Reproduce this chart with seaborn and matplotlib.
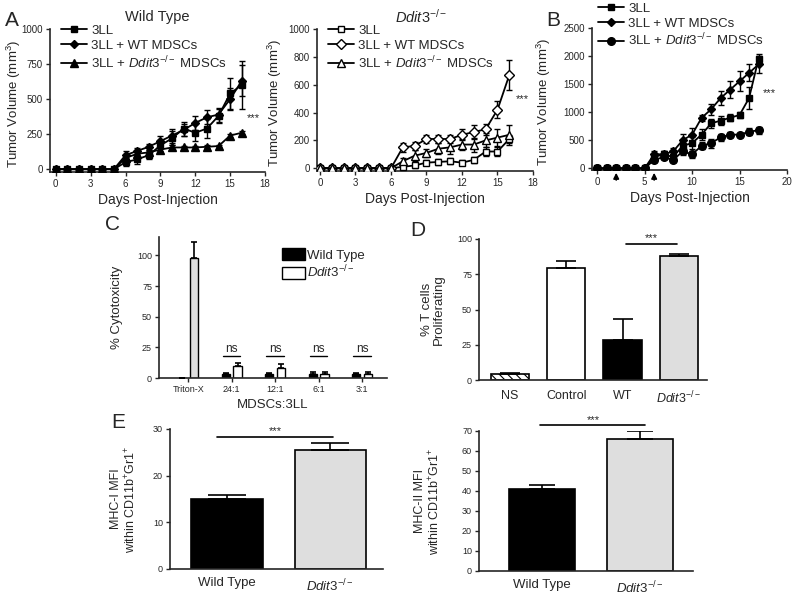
import numpy as np
import pandas as pd
import seaborn as sns
import matplotlib.pyplot as plt
from matplotlib.patches import Patch

sns.set_style("ticks")
plt.rcParams['font.family'] = ['Liberation Sans', 'DejaVu Sans']
plt.rcParams['mathtext.fontset'] = 'custom'
plt.rcParams['mathtext.rm'] = 'Liberation Sans'
plt.rcParams['mathtext.it'] = 'Liberation Sans:italic'
plt.rcParams['mathtext.bf'] = 'Liberation Sans:bold'
plt.rcParams['hatch.linewidth'] = 0.8

DDIT = r'$\it{Ddit3}^{-/-}$'

# ---- data: panel A, wild type hosts (days 0-16)
days_a = list(range(17))
wt_3ll = [0, 0, 0, 0, 0, 0, 50, 70, 100, 170, 220, 290, 260, 290, 380, 540, 600]
wt_3ll_err = [0, 0, 0, 0, 0, 0, 30, 30, 30, 40, 50, 50, 60, 70, 50, 110, 170]
wt_wtm = [0, 0, 0, 0, 0, 0, 100, 130, 160, 200, 240, 280, 330, 370, 390, 500, 630]
wt_wtm_err = [0, 0, 0, 0, 0, 0, 30, 20, 20, 40, 50, 40, 50, 50, 50, 80, 110]
wt_ddm = [0, 0, 0, 0, 0, 0, 80, 110, 120, 140, 155, 155, 155, 160, 165, 240, 260]
wt_ddm_err = [0, 0, 0, 0, 0, 0, 20, 15, 15, 20, 15, 10, 10, 10, 10, 10, 10]

# ---- data: panel A, Ddit3-/- hosts
dd_3ll = [0, 0, 0, 0, 0, 0, 0, 10, 20, 40, 45, 50, 40, 60, 120, 120, 210]
dd_3ll_err = [0, 0, 0, 0, 0, 0, 0, 15, 15, 20, 20, 20, 20, 20, 30, 30, 30]
dd_wtm = [0, 0, 0, 0, 0, 0, 0, 150, 160, 210, 210, 210, 240, 260, 280, 420, 670]
dd_wtm_err = [0, 0, 0, 0, 0, 0, 0, 30, 30, 30, 30, 30, 40, 50, 40, 60, 110]
dd_ddm = [0, 0, 0, 0, 0, 0, 0, 50, 90, 110, 140, 150, 170, 170, 200, 220, 240]
dd_ddm_err = [0, 0, 0, 0, 0, 0, 0, 20, 40, 30, 40, 50, 40, 50, 50, 60, 70]

# ---- data: panel B (days 0-17)
days_b = list(range(18))
b_3ll = [0, 0, 0, 0, 0, 0, 200, 250, 200, 400, 450, 600, 800, 850, 900, 950, 1250, 1950]
b_3ll_err = [0, 0, 0, 0, 0, 0, 80, 60, 60, 80, 100, 100, 80, 80, 60, 60, 200, 80]
b_wtm = [0, 0, 0, 0, 0, 0, 250, 250, 300, 500, 600, 900, 1050, 1250, 1400, 1550, 1700, 1850]
b_wtm_err = [0, 0, 0, 0, 0, 0, 60, 60, 60, 120, 120, 50, 100, 120, 150, 180, 150, 150]
b_ddm = [0, 0, 0, 0, 0, 0, 150, 200, 150, 300, 250, 400, 450, 550, 600, 600, 650, 680]
b_ddm_err = [0, 0, 0, 0, 0, 0, 40, 40, 40, 60, 60, 60, 80, 60, 40, 30, 60, 60]

# ---- data: panel C
c_ratios = ['Triton-X', '24:1', '12:1', '6:1', '3:1']
c_wt = [0, 3, 3, 3.5, 3]
c_wt_err = [0, 1, 0.8, 1, 0.8]
c_dd = [98, 10, 8, 3, 3]
c_dd_err = [13, 2.5, 3.5, 2, 2]

# ---- data: panel D
d_groups = ['NS', 'Control', 'WT', DDIT]
d_vals = [4.3, 79.2, 28.4, 87.6]
d_err = [0.8, 5.0, 14.6, 2.0]

# ---- data: panel E
e_groups = ['Wild Type', DDIT]
e_mhc1 = [15.0, 25.6]
e_mhc1_err = [0.8, 1.3]
e_mhc2 = [40.8, 66.0]
e_mhc2_err = [2.2, 4.0]

fig = plt.figure(figsize=(8, 5.95), dpi=100)


def px_axes(l, r, b, t):
    W, H = 800, 595
    return fig.add_axes([l / W, 1 - b / H, (r - l) / W, (b - t) / H])


def style(ax, lab=7):
    sns.despine(ax=ax)
    for s in ['left', 'bottom']:
        ax.spines[s].set_linewidth(1.2)
    ax.tick_params(direction='out', length=3, width=1, labelsize=lab, pad=2)


def growth(ax, days, series):
    for vals, errs, marker, mfc, ms, label in series:
        d = np.array(days)
        v = np.array(vals, float)
        e = np.array(errs, float)
        m = e > 0
        ax.errorbar(d[m], v[m], yerr=e[m], fmt='none', ecolor='k',
                    elinewidth=1, capsize=2.5, capthick=1, zorder=2)
        sns.lineplot(x=days, y=vals, ax=ax, color='k', marker=marker,
                     markersize=ms, markerfacecolor=mfc, markeredgecolor='k',
                     markeredgewidth=1, linewidth=1.3, label=label, zorder=3)


def bar_err(ax, xs, vals, errs, cap):
    ax.errorbar(xs, vals, yerr=[np.zeros(len(vals)), errs], fmt='none',
                ecolor='k', elinewidth=1.2, capsize=cap, capthick=1.2, zorder=4)


leg_kw = dict(frameon=False, fontsize=9.5, handlelength=2.0, labelspacing=0.2,
              handletextpad=0.3, borderaxespad=0, borderpad=0, loc='upper left')

# ---------- A: wild type
ax1 = px_axes(50, 265, 172, 29)
growth(ax1, days_a, [
    (wt_3ll, wt_3ll_err, 's', 'k', 5, '3LL'),
    (wt_wtm, wt_wtm_err, 'D', 'k', 4.5, '3LL + WT MDSCs'),
    (wt_ddm, wt_ddm_err, '^', 'k', 5.5, '3LL + ' + DDIT + ' MDSCs'),
])
ax1.set_xlim(-0.5, 18)
ax1.set_ylim(-20, 1000)
ax1.set_xticks(range(0, 19, 3))
ax1.set_yticks([0, 250, 500, 750, 1000])
style(ax1)
ax1.legend(bbox_to_anchor=(0.05, 1.03), **leg_kw)
ax1.set_xlabel('Days Post-Injection', fontsize=10, labelpad=3)
ax1.set_ylabel('Tumor Volume (mm$^3$)', fontsize=9.5)
ax1.yaxis.set_label_coords(-0.125, 0.48)
ax1.text(0.5, 1.085, 'Wild Type', transform=ax1.transAxes, ha='center', va='center', fontsize=10.5)
ax1.text(17.0, 364, '***', ha='center', va='center', fontsize=8)

# ---------- A: Ddit3-/-
ax2 = px_axes(317, 533, 171, 29)
growth(ax2, days_a, [
    (dd_3ll, dd_3ll_err, 's', 'white', 5, '3LL'),
    (dd_wtm, dd_wtm_err, 'D', 'white', 5, '3LL + WT MDSCs'),
    (dd_ddm, dd_ddm_err, '^', 'white', 5.5, '3LL + ' + DDIT + ' MDSCs'),
])
ax2.set_xlim(-0.25, 18)
ax2.set_ylim(-20, 1000)
ax2.set_xticks(range(0, 19, 3))
ax2.set_yticks(range(0, 1001, 200))
style(ax2)
ax2.legend(bbox_to_anchor=(0.05, 1.03), **leg_kw)
ax2.set_xlabel('Days Post-Injection', fontsize=10, labelpad=3)
ax2.set_ylabel('Tumor Volume (mm$^3$)', fontsize=9.5)
ax2.yaxis.set_label_coords(-0.155, 0.48)
ax2.text(0.48, 1.085, DDIT, transform=ax2.transAxes, ha='center', va='center', fontsize=10.5)
ax2.text(17.1, 496, '***', ha='center', va='center', fontsize=8)

# ---------- B
ax3 = px_axes(592, 787, 170, 28)
growth(ax3, days_b, [
    (b_3ll, b_3ll_err, 's', 'k', 5, '3LL'),
    (b_wtm, b_wtm_err, 'D', 'k', 4, '3LL + WT MDSCs'),
    (b_ddm, b_ddm_err, 'o', 'k', 5.5, '3LL + ' + DDIT + ' MDSCs'),
])
ax3.set_xlim(-0.55, 20)
ax3.set_ylim(-30, 2500)
ax3.set_xticks(range(0, 21, 5))
ax3.set_yticks(range(0, 2501, 500))
style(ax3)
ax3.legend(bbox_to_anchor=(0.03, 1.18), **leg_kw)
ax3.set_xlabel('Days Post-Injection', fontsize=10, labelpad=3)
ax3.set_ylabel('Tumor Volume (mm$^3$)', fontsize=9.5)
ax3.yaxis.set_label_coords(-0.2, 0.48)
ax3.text(18.1, 1340, '***', ha='center', va='center', fontsize=8)
for d in [2, 6]:
    ax3.annotate('', xy=(d, 0.0), xycoords=('data', 'axes fraction'),
                 xytext=(d, -0.09), textcoords=('data', 'axes fraction'),
                 arrowprops=dict(arrowstyle='-|>', color='k', lw=1.2, mutation_scale=8))

# ---------- C
ax4 = px_axes(159, 387, 378, 237)
c_df = pd.DataFrame({
    'ratio': c_ratios * 2,
    'geno': ['Wild Type'] * 5 + ['Ddit3'] * 5,
    'val': c_wt + c_dd,
})
sns.barplot(data=c_df, x='ratio', y='val', hue='geno', ax=ax4, order=c_ratios,
            palette={'Wild Type': 'k', 'Ddit3': 'white'}, edgecolor='k',
            linewidth=1, width=0.54, gap=0.3, legend=False, errorbar=None)
tall = max(ax4.patches, key=lambda p: p.get_height())
tall.set_facecolor('#dedede')
xs = np.arange(len(c_ratios))
bar_err(ax4, xs - 0.135, c_wt, c_wt_err, 2.5)
bar_err(ax4, xs + 0.135, c_dd, c_dd_err, 2.5)
for i in range(1, len(c_ratios)):
    ax4.plot([i - 0.2, i + 0.2], [18, 18], color='k', lw=1)
    ax4.text(i, 18.5, 'ns', ha='center', va='bottom', fontsize=8.5)
ax4.set_xlim(-0.67, 4.57)
ax4.set_ylim(0, 115)
ax4.set_yticks([0, 25, 50, 75, 100])
style(ax4, lab=6.5)
ax4.set_xlabel('MDSCs:3LL', fontsize=9.5, labelpad=4)
ax4.set_ylabel('% Cytotoxicity', fontsize=9.5)
ax4.yaxis.set_label_coords(-0.16, 0.5)
ax4.legend(handles=[Patch(fc='k', ec='k'), Patch(fc='white', ec='k')],
           labels=['Wild Type', DDIT], bbox_to_anchor=(0.54, 0.92),
           frameon=False, fontsize=9.5, handlelength=1.7, handleheight=1.0,
           handletextpad=0.2, labelspacing=0.15, borderaxespad=0, borderpad=0,
           loc='upper left')

# ---------- D
ax5 = px_axes(479, 707, 380, 239)
sns.barplot(x=d_groups, y=d_vals, hue=d_groups, ax=ax5, order=d_groups,
            palette=['white', 'white', 'k', '#dedede'], edgecolor='k',
            linewidth=1.2, width=0.68, legend=False, errorbar=None)
ax5.patches[0].set_hatch('\\\\\\\\')
bar_err(ax5, np.arange(4), d_vals, d_err, 7)
ax5.plot([2.07, 2.97], [96.5, 96.5], color='k', lw=1.2, clip_on=False)
ax5.text(2.52, 97, '***', ha='center', va='bottom', fontsize=8)
ax5.set_xlim(-0.55, 3.5)
ax5.set_ylim(0, 100)
ax5.set_yticks([0, 25, 50, 75, 100])
style(ax5, lab=6.5)
ax5.tick_params(axis='x', labelsize=9, length=0, pad=7)
ax5.set_ylabel('% T cells\nProliferating', fontsize=9.5, linespacing=1.0)
ax5.yaxis.set_label_coords(-0.15, 0.5)

# ---------- E left
ax6 = px_axes(170, 383, 569, 429)
sns.barplot(x=e_groups, y=e_mhc1, hue=e_groups, ax=ax6, order=e_groups,
            palette=['k', '#dedede'], edgecolor='k', linewidth=1.2,
            width=0.69, legend=False, errorbar=None)
bar_err(ax6, np.arange(2), e_mhc1, e_mhc1_err, 14)
ax6.plot([-0.1, 1.03], [28.3, 28.3], color='k', lw=1.2, clip_on=False)
ax6.text(0.47, 28.4, '***', ha='center', va='bottom', fontsize=8)
ax6.set_xlim(-0.55, 1.51)
ax6.set_ylim(0, 30)
ax6.set_yticks([0, 10, 20, 30])
style(ax6, lab=6.5)
ax6.tick_params(axis='x', labelsize=9.5, length=0, pad=6)
ax6.set_ylabel('MHC-I MFI\nwithin CD11b$^{+}$Gr1$^{+}$', fontsize=9, linespacing=1.1)
ax6.yaxis.set_label_coords(-0.15, 0.5)

# ---------- E right
ax7 = px_axes(479, 693, 571, 431)
sns.barplot(x=e_groups, y=e_mhc2, hue=e_groups, ax=ax7, order=e_groups,
            palette=['k', '#dedede'], edgecolor='k', linewidth=1.2,
            width=0.67, legend=False, errorbar=None)
bar_err(ax7, np.arange(2), e_mhc2, e_mhc2_err, 9.5)
ax7.plot([-0.02, 1.05], [73, 73], color='k', lw=1.2, clip_on=False)
ax7.text(0.52, 73.2, '***', ha='center', va='bottom', fontsize=8)
ax7.set_xlim(-0.64, 1.54)
ax7.set_ylim(0, 70)
ax7.set_yticks(range(0, 71, 10))
style(ax7, lab=6.5)
ax7.tick_params(axis='x', labelsize=9.5, length=0, pad=6)
ax7.set_ylabel('MHC-II MFI\nwithin CD11b$^{+}$Gr1$^{+}$', fontsize=9, linespacing=1.1)
ax7.yaxis.set_label_coords(-0.17, 0.5)

# panel letters
for lab, x, y in [('A', 12, 20), ('B', 553, 20), ('C', 113, 225),
                  ('D', 418, 230), ('E', 118, 422)]:
    fig.text(x / 800, 1 - y / 595, lab, fontsize=15, ha='center', va='center')

fig.savefig('out.png', dpi=100)
